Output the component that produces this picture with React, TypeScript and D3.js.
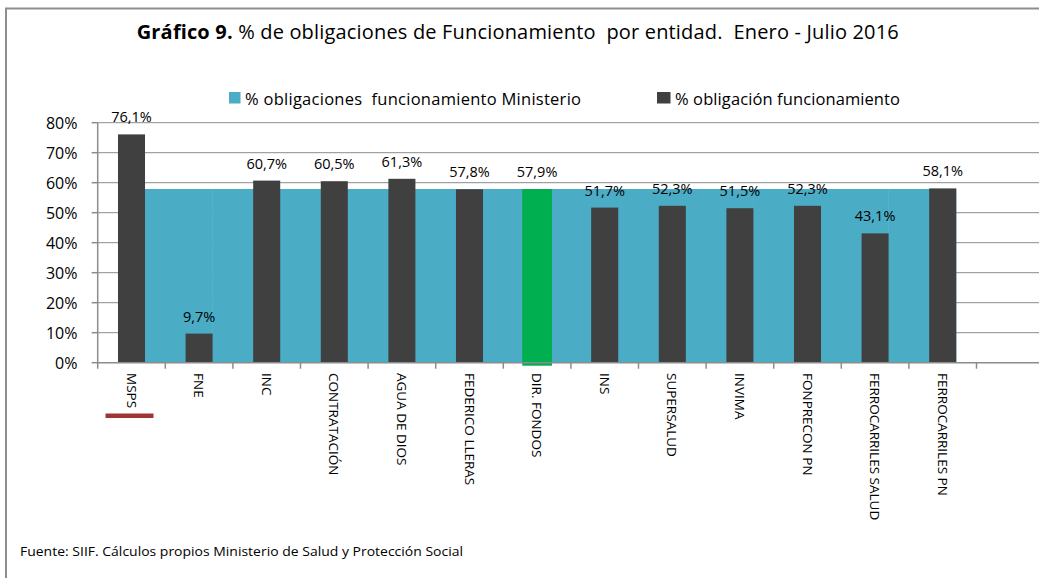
import React from "react";
import * as d3 from "d3";

const categories = [
  "MSPS", "FNE", "INC", "CONTRATACIÓN", "AGUA DE DIOS", "FEDERICO LLERAS",
  "DIR. FONDOS", "INS", "SUPERSALUD", "INVIMA", "FONPRECON PN",
  "FERROCARRILES SALUD", "FERROCARRILES PN",
];
const entityValues = [76.1, 9.7, 60.7, 60.5, 61.3, 57.8, 57.9, 51.7, 52.3, 51.5, 52.3, 43.1, 58.1];
const ministryValues: (number | null)[] = [57.9, 57.9, 57.9, 57.9, 57.9, 57.9, 57.9, 57.9, 57.9, 57.9, 57.9, 57.9, null];
const highlightCategory = "DIR. FONDOS";
const underlinedCategory = "MSPS";
const yTicks = [0, 10, 20, 30, 40, 50, 60, 70, 80];
const seriesNames = ["% obligaciones  funcionamiento Ministerio", "% obligación funcionamiento"];

const W = 1039, H = 578;
const FONT = "'Open Sans', 'Noto Sans', sans-serif";
const C_BLUE = "#4BACC6";
const C_DARK = "#404040";
const C_GREEN = "#00B050";
const C_GRID = "#8C8C8C";

export default function App() {
  const left = 97.7, bottom = 362.7, top = 122.7;
  const slots = [...categories, ""];
  const x = d3.scaleBand<string>().domain(slots).range([left, left + slots.length * 67.6]).padding(0);
  const y = d3.scaleLinear().domain([0, 80]).range([bottom, top]);
  const bw = x.bandwidth();
  const fmt = (v: number) => v.toFixed(1).replace(".", ",") + "%";

  return (
    <div style={{ position: "absolute", left: 0, top: 0 }}>
      <svg width={W} height={H} style={{ display: "block", fontFamily: FONT }}>
        <rect x={0} y={0} width={W} height={H} fill="#fff" />
        {/* frame */}
        <path d={`M6,${H + 5} V8.5 H${W + 5}`} fill="none" stroke="#8E8E8E" strokeWidth={2} />

        {/* title */}
        <text x={136.7} y={38.5} fontSize={20} fill="#000" textLength={762} lengthAdjust="spacing" style={{ whiteSpace: "pre" }}>
          <tspan fontWeight="bold">Gráfico 9.</tspan>
          <tspan> % de obligaciones de Funcionamiento  por entidad.  Enero - Julio 2016</tspan>
        </text>

        {/* legend */}
        <rect x={229} y={92} width={11.5} height={11.5} fill={C_BLUE} />
        <text x={245} y={98} dominantBaseline="central" fontSize={16.5} fill="#000" textLength={336} lengthAdjust="spacing" style={{ whiteSpace: "pre" }}>{seriesNames[0]}</text>
        <rect x={657} y={92} width={13.5} height={11.5} fill={C_DARK} />
        <text x={675} y={98} dominantBaseline="central" fontSize={16.5} fill="#000" textLength={225} lengthAdjust="spacing">{seriesNames[1]}</text>

        {/* gridlines */}
        {yTicks.filter((t) => t > 0).map((t) => (
          <line key={t} x1={left} x2={W} y1={y(t)} y2={y(t)} stroke={C_GRID} strokeWidth={1} />
        ))}

        {/* ministry series: full-band bars offset behind the entity bars */}
        {categories.map((c, i) => {
          const v = ministryValues[i];
          if (v == null) return null;
          const x0 = (x(c) as number) + bw * 0.695;
          return <rect key={"m" + c} x={x0} y={y(v)} width={bw + 0.5} height={y(0) - y(v)} fill={C_BLUE} />;
        })}

        {/* entity series */}
        {categories.map((c, i) => {
          const v = entityValues[i];
          const hl = c === highlightCategory;
          const w = hl ? bw * 0.44 : bw * 0.4;
          const cx = (x(c) as number) + bw / 2;
          return (
            <rect key={"e" + c} x={cx - w / 2} y={y(v)} width={w}
              height={y(0) - y(v) + (hl ? 3 : 0)} fill={hl ? C_GREEN : C_DARK} />
          );
        })}

        {/* data labels */}
        {categories.map((c, i) => {
          const v = entityValues[i];
          const cx = (x(c) as number) + bw / 2;
          return (
            <text key={"l" + c} x={cx} y={y(v) - 17.5} textAnchor="middle" dominantBaseline="central" fontSize={14.5} fill="#000">
              {fmt(v)}
            </text>
          );
        })}

        {/* y axis */}
        <line x1={left} x2={left} y1={top} y2={bottom} stroke={C_GRID} strokeWidth={1.5} />
        {yTicks.map((t) => (
          <g key={"yt" + t}>
            <line x1={left - 6} x2={left} y1={y(t)} y2={y(t)} stroke={C_GRID} strokeWidth={1.5} />
            <text x={77.5} y={y(t)} textAnchor="end" dominantBaseline="central" fontSize={16} fill="#000">{t}%</text>
          </g>
        ))}

        {/* x axis */}
        <line x1={left} x2={W} y1={bottom} y2={bottom} stroke={C_GRID} strokeWidth={1.5} />
        {slots.map((c) => (
          <line key={"xt" + c} x1={x(c) as number} x2={x(c) as number} y1={bottom} y2={bottom + 6} stroke={C_GRID} strokeWidth={1.5} />
        ))}
        {categories.map((c) => {
          const cx = (x(c) as number) + bw / 2;
          return (
            <text key={"xl" + c} transform={`translate(${cx},373) rotate(90)`} textAnchor="start" dominantBaseline="central" fontSize={13.5} fill="#000">
              {c}
            </text>
          );
        })}
        {/* underline marker */}
        <rect x={(x(underlinedCategory) as number) + bw / 2 - 26} y={413.5} width={48} height={4.5} fill="#9E3532" />

        {/* footer */}
        <text x={20} y={551} dominantBaseline="central" fontSize={12.5} fill="#000" textLength={443} lengthAdjust="spacingAndGlyphs">
          Fuente: SIIF. Cálculos propios Ministerio de Salud y Protección Social
        </text>
      </svg>
    </div>
  );
}
